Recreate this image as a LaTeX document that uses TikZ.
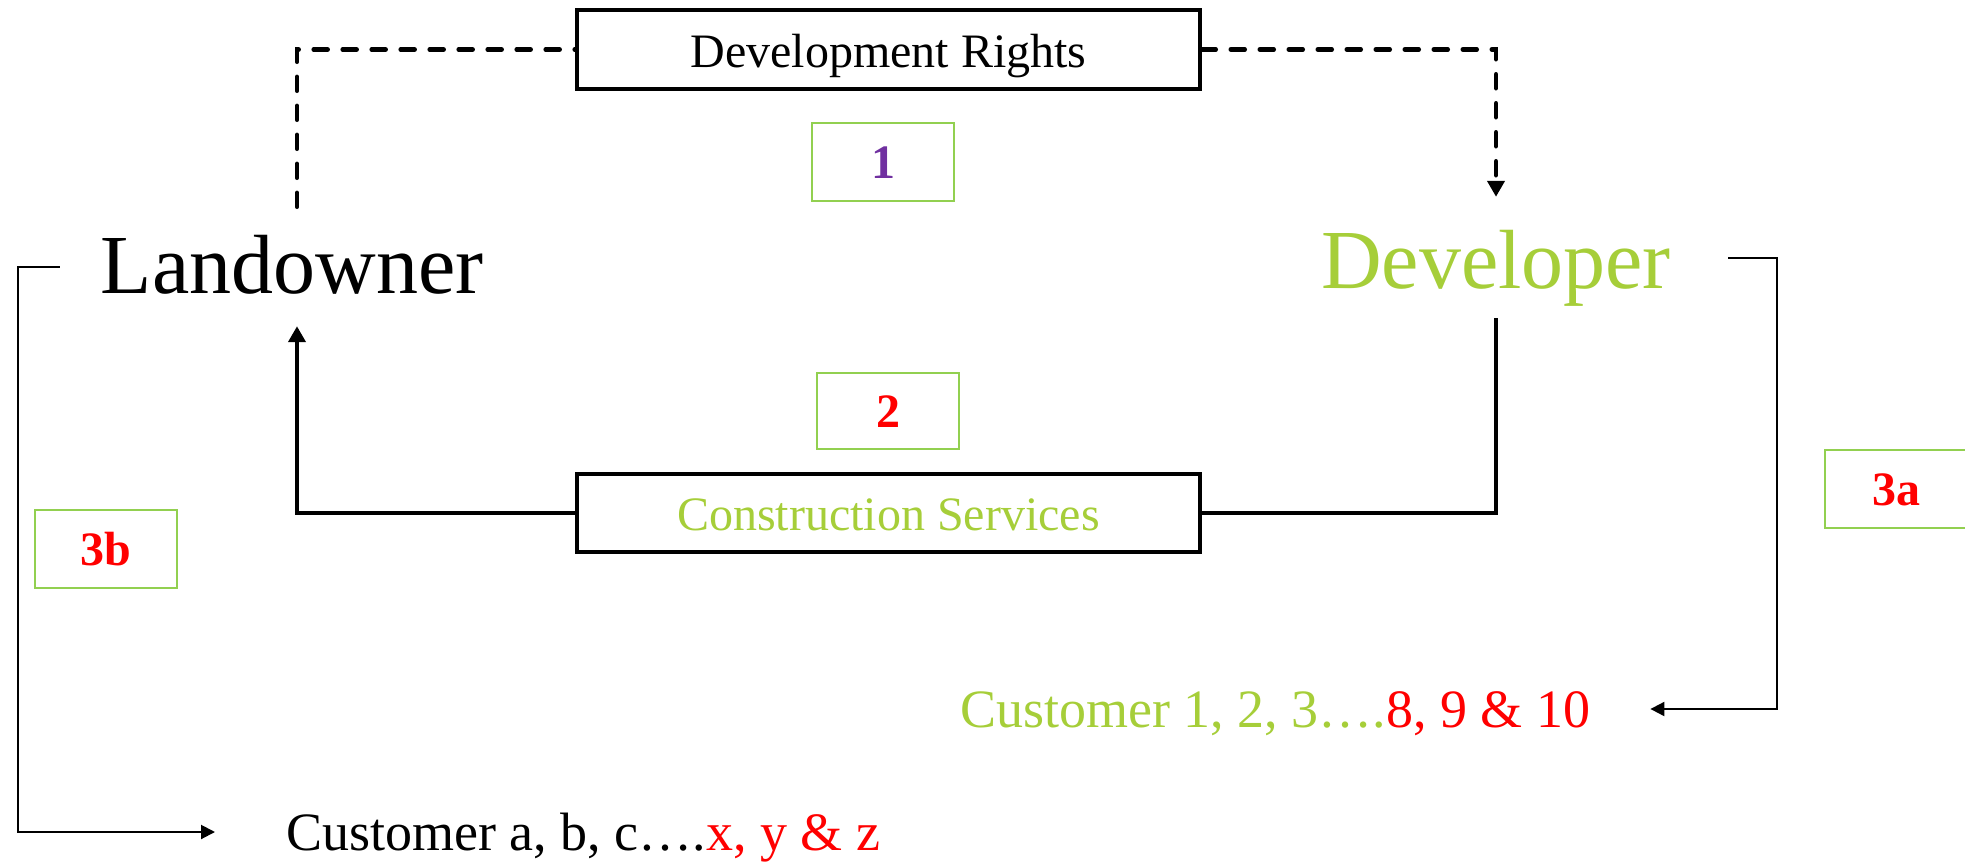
\documentclass[tikz,border=0pt]{standalone}
\usepackage{fontspec}
\setmainfont{Liberation Serif}
\usetikzlibrary{arrows.meta}
\definecolor{leafgreen}{RGB}{166,206,57}
\definecolor{framegreen}{RGB}{146,208,80}
\definecolor{numred}{RGB}{255,0,0}
\definecolor{numpurple}{RGB}{112,48,160}

\begin{document}
\begin{tikzpicture}[x=1pt,y=-1pt,
  party/.style={inner ysep=0pt, anchor=base, font=\fontsize{84}{90}\selectfont},
  flowbox/.style={draw, line width=3.5pt, minimum width=623pt, minimum height=79pt,
    inner sep=0pt, text height=35pt, text depth=0pt, font=\fontsize{48}{54}\selectfont},
  numbox/.style={draw=framegreen, line width=2pt, minimum width=142pt, minimum height=78pt,
    inner sep=0pt, text height=32pt, text depth=0pt, font=\fontsize{48}{54}\selectfont\bfseries},
  buyers/.style={inner sep=0pt, anchor=base west, text height=36pt, text depth=0pt,
    font=\fontsize{54}{60}\selectfont},
  heavy/.style={line width=4pt},
  dashpat/.style={line width=4.5pt, line cap=round, dash pattern=on 14pt off 15pt},
  bigtip/.style={-{Triangle[length=16pt,width=17pt]}},
  light/.style={line width=2pt, -{Triangle[length=14pt,width=14pt]}},
]
\useasboundingbox (0,0) rectangle (1965,862);

% the two exchange boxes
\node[flowbox] (dr) at (888.5,49.5) {Development Rights};
\node[flowbox, text=leafgreen, minimum height=78pt] (cs) at (888.5,513) {Construction Services};

% the two parties
\node[party, text height=86pt, text depth=33pt, inner xsep=41pt] (land) at (292,293) {Landowner};
\node[party, text=leafgreen, text height=91pt, text depth=30pt, inner xsep=57pt] (dev) at (1496,288) {Developer};

% step numbers
\node[numbox, text=numpurple] (n1) at (883,162) {1};
\node[numbox, text=numred, minimum height=76pt] (n2) at (888,411) {2};
\node[numbox, text=numred] (n3a) at (1896,489) {3a};
\node[numbox, text=numred] (n3b) at (105.5,549) {3b};

% customers
\node[buyers, text=leafgreen] (cn) at (960,727) {Customer 1, 2, 3….\textcolor{numred}{8, 9 \& 10}};
\node[buyers] (ca) at (286,850) {Customer a, b, c….\textcolor{numred}{x, y \& z}};

% connectors
\coordinate (lx) at (297,0);
\coordinate (lcorner) at (18,0);
\coordinate (rcorner) at (1777,0);

\draw[dashpat] (land.north -| lx) |- (dr.west);
\draw[dashpat, bigtip] (dr.east) -| (dev.north);
\draw[heavy] (dev.south) |- (cs.east);
\draw[heavy, bigtip] (cs.west) -| (land.south -| lx);

\draw[light] (land.west) -| (lcorner |- ca.west) -- ([xshift=-71pt]ca.west);
\draw[light] (dev.east) -| (rcorner |- cn.east) -- ([xshift=60pt]cn.east);
\end{tikzpicture}
\end{document}
